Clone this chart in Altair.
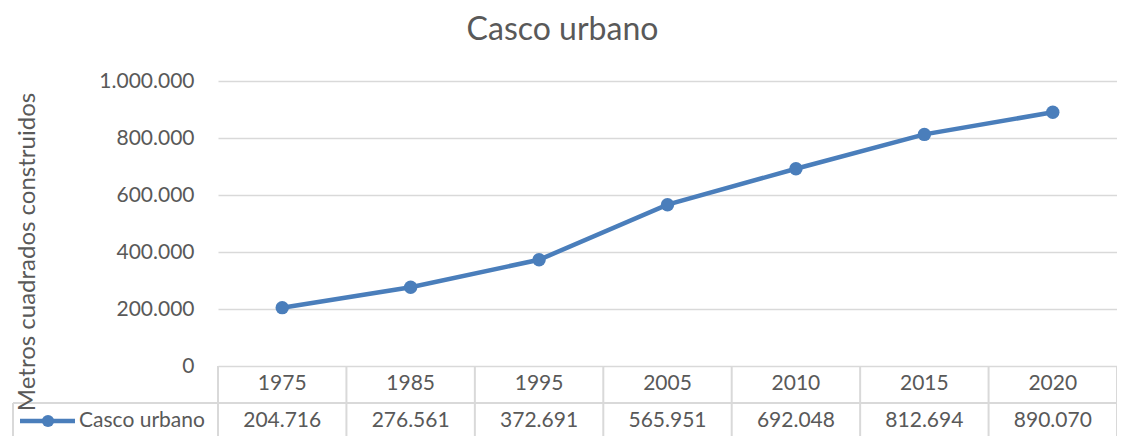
import altair as alt
import pandas as pd

years = ["1975", "1985", "1995", "2005", "2010", "2015", "2020"]
values = [204716, 276561, 372691, 565951, 692048, 812694, 890070]
y_ticks = [0, 200000, 400000, 600000, 800000, 1000000]
title_text = "Casco urbano"
y_title = "Metros cuadrados construidos"
series_name = "Casco urbano"

FONT = "Lato"
TXT = "#595959"
GRID = "#d9d9d9"
BLUE = "#4a7ebb"

W, H = 899, 285

df = pd.DataFrame({
    "year": years,
    "value": values,
    "label": [f"{v:,}".replace(",", ".") for v in values],
})

xenc = alt.X("year:O", sort=years, axis=None,
             scale=alt.Scale(type="band", paddingInner=0, paddingOuter=0))
yscale = alt.Scale(domain=[0, 1000000], nice=False, zero=True)

base = alt.Chart(df)

line = base.mark_line(color=BLUE, strokeWidth=4.5).encode(
    x=xenc,
    y=alt.Y("value:Q", scale=yscale, title=None,
            axis=alt.Axis(values=y_ticks, grid=True, gridColor=GRID, gridWidth=1.5,
                          domain=False, ticks=False, labelPadding=24,
                          labelFontSize=21, labelFont=FONT, labelColor=TXT,
                          labelExpr="replace(format(datum.value, ','), regexp(',', 'g'), '.')")),
)
points = base.mark_point(filled=True, shape="circle", size=180, color=BLUE, opacity=1).encode(
    x=xenc, y=alt.Y("value:Q", scale=yscale)
)

# table vertical lines
vlines = base.mark_rule(color=GRID, strokeWidth=2).encode(
    x=alt.X("year:O", sort=years, bandPosition=0,
            scale=alt.Scale(type="band", paddingInner=0, paddingOuter=0), axis=None),
    y=alt.value(H), y2=alt.value(H + 75),
)
vline_end = alt.Chart(df[df["year"] == years[-1]]).mark_rule(color=GRID, strokeWidth=2).encode(
    x=alt.X("year:O", sort=years, bandPosition=1,
            scale=alt.Scale(type="band", paddingInner=0, paddingOuter=0), axis=None),
    y=alt.value(H), y2=alt.value(H + 75),
)
hline_mid = base.mark_rule(color=GRID, strokeWidth=2).encode(
    x=alt.value(-205), x2=alt.value(W), y=alt.value(322)
)
vline_legend = base.mark_rule(color=GRID, strokeWidth=2).encode(
    x=alt.value(-205), y=alt.value(322), y2=alt.value(H + 75)
)

hdr = base.mark_text(font=FONT, fontSize=21, color=TXT, baseline="middle").encode(
    x=xenc, y=alt.value(303), text="year:N"
)
vals = base.mark_text(font=FONT, fontSize=21, color=TXT, baseline="middle").encode(
    x=xenc, y=alt.value(340), text="label:N"
)

leg_df = pd.DataFrame({"name": [series_name]})
leg_line = alt.Chart(leg_df).mark_rule(color=BLUE, strokeWidth=4.5).encode(
    x=alt.value(-198), x2=alt.value(-143), y=alt.value(340)
)
leg_pt = alt.Chart(leg_df).mark_point(filled=True, shape="circle", size=150, color=BLUE, opacity=1).encode(
    x=alt.value(-170), y=alt.value(340)
)
leg_txt = alt.Chart(leg_df).mark_text(font=FONT, fontSize=21, color=TXT, align="left", baseline="middle").encode(
    x=alt.value(-139), y=alt.value(340), text="name:N"
)

ttl_df = pd.DataFrame({"t": [title_text]})
ttl = alt.Chart(ttl_df).mark_text(font=FONT, fontSize=32, color=TXT, align="center", baseline="alphabetic").encode(
    x=alt.value(344.5), y=alt.value(-41), text="t:N"
)
yt_df = pd.DataFrame({"t": [y_title]})
ytl = alt.Chart(yt_df).mark_text(font=FONT, fontSize=24, color=TXT, align="center", baseline="alphabetic", angle=270).encode(
    x=alt.value(-183), y=alt.value(171), text="t:N"
)

chart = alt.layer(
    vlines, vline_end, hline_mid, vline_legend, line, points, hdr, vals,
    leg_line, leg_pt, leg_txt, ttl, ytl
).properties(
    width=W, height=H,
    autosize=alt.AutoSizeParams(type="none"),
    padding={"left": 210, "top": 73, "right": 0, "bottom": 70},
    background="white",
).configure_view(stroke=None)

chart.save("out.html", embed_options={"renderer": "svg", "actions": False})
